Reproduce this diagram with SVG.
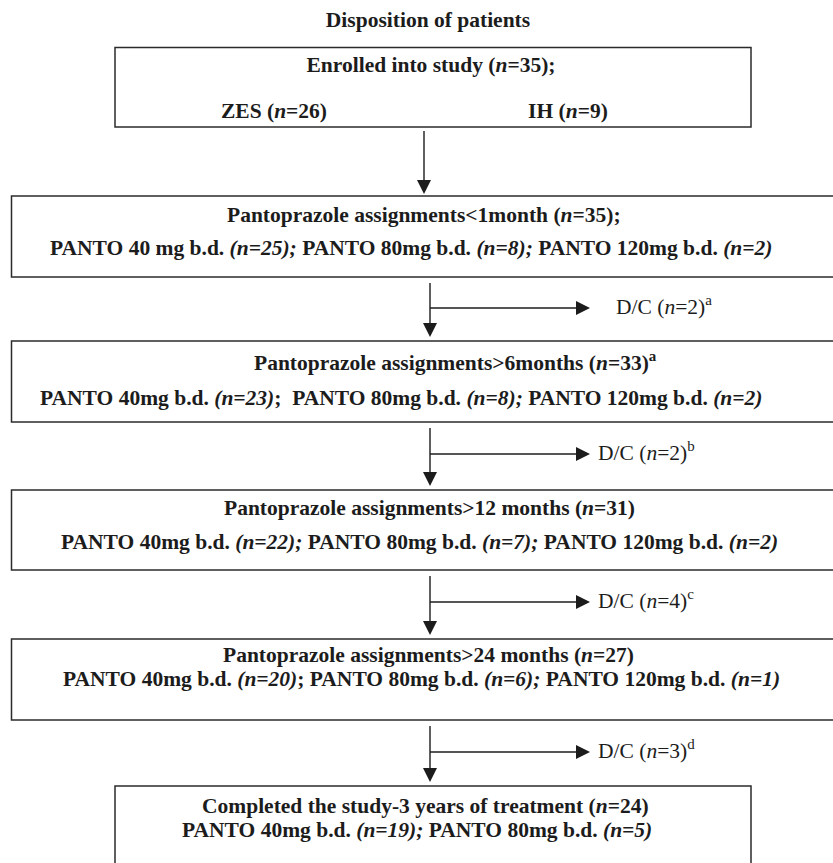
<svg xmlns="http://www.w3.org/2000/svg" width="833" height="863" viewBox="0 0 833 863">
<style>
.bg{fill:#ffffff}
.box{fill:none;stroke:#2b2b2b;stroke-width:1.5}
.t{font-family:"Liberation Serif","Times New Roman",serif;font-size:21.5px;font-weight:bold;fill:#1c1c1c}
.i{font-style:italic}
.ib{font-style:italic}
.dc{font-family:"Liberation Serif","Times New Roman",serif;font-size:21.5px;font-weight:normal;fill:#1c1c1c}
.sup{font-size:15px}
.ln{stroke:#1c1c1c;stroke-width:1.4;fill:none}
</style>
<defs>
<marker id="ah" markerUnits="userSpaceOnUse" markerWidth="15" markerHeight="15" refX="4" refY="7" orient="auto">
<path d="M0,0 L14,7 L0,14 z" fill="#1c1c1c"/>
</marker>
</defs>
<rect class="bg" x="0" y="0" width="833" height="863"/>
<text id="title" class="t" x="428" y="27" text-anchor="middle">Disposition of patients</text>

<g id="enrolled">
<rect class="box" x="115" y="47.5" width="636" height="79.5"/>
<text class="t" x="431" y="72" text-anchor="middle">Enrolled into study (<tspan class="ib">n</tspan>=35);</text>
<text class="t" x="274" y="118" text-anchor="middle">ZES (<tspan class="ib">n</tspan>=26)</text>
<text class="t" x="568" y="118" text-anchor="middle">IH (<tspan class="ib">n</tspan>=9)</text>
</g>

<g id="month1">
<rect class="box" x="11.5" y="196" width="840" height="81"/>
<text class="t" x="227" y="222">Pantoprazole assignments&lt;1month (<tspan class="ib">n</tspan>=35);</text>
<text class="t" x="50" y="255">PANTO 40 mg b.d. <tspan class="i">(n=25);</tspan> PANTO 80mg b.d. <tspan class="i">(n=8);</tspan> PANTO 120mg b.d. <tspan class="i">(n=2)</tspan></text>
</g>

<g id="month6">
<rect class="box" x="11.5" y="341" width="840" height="81"/>
<text class="t" x="254" y="370">Pantoprazole assignments&gt;6months (<tspan class="ib">n</tspan>=33)<tspan class="sup" dy="-9">a</tspan></text>
<text class="t" x="40" y="405">PANTO 40mg b.d. <tspan class="i">(n=23)</tspan>;&#160; PANTO 80mg b.d. <tspan class="i">(n=8);</tspan> PANTO 120mg b.d. <tspan class="i">(n=2)</tspan></text>
</g>

<g id="month12">
<rect class="box" x="11.5" y="490" width="840" height="80"/>
<text class="t" x="224" y="515">Pantoprazole assignments&gt;12 months (<tspan class="ib">n</tspan>=31)</text>
<text class="t" x="61" y="549">PANTO 40mg b.d. <tspan class="i">(n=22);</tspan> PANTO 80mg b.d. <tspan class="i">(n=7);</tspan> PANTO 120mg b.d. <tspan class="i">(n=2)</tspan></text>
</g>

<g id="month24">
<rect class="box" x="11.5" y="639" width="840" height="81"/>
<text class="t" x="223" y="662">Pantoprazole assignments&gt;24 months (<tspan class="ib">n</tspan>=27)</text>
<text class="t" x="63" y="686">PANTO 40mg b.d. <tspan class="i">(n=20)</tspan>; PANTO 80mg b.d. <tspan class="i">(n=6);</tspan> PANTO 120mg b.d. <tspan class="i">(n=1)</tspan></text>
</g>

<g id="completed">
<rect class="box" x="115" y="786" width="636" height="100"/>
<text class="t" x="202" y="813">Completed the study-3 years of treatment (<tspan class="ib">n</tspan>=24)</text>
<text class="t" x="182" y="837">PANTO 40mg b.d. <tspan class="i">(n=19);</tspan> PANTO 80mg b.d. <tspan class="i">(n=5)</tspan></text>
</g>

<g id="dc-labels">
<text class="dc" x="616" y="314">D/C (<tspan font-style="italic">n</tspan>=2)<tspan class="sup" dy="-9">a</tspan></text>
<text class="dc" x="598" y="460">D/C (<tspan font-style="italic">n</tspan>=2)<tspan class="sup" dy="-9">b</tspan></text>
<text class="dc" x="598" y="608">D/C (<tspan font-style="italic">n</tspan>=4)<tspan class="sup" dy="-9">c</tspan></text>
<text class="dc" x="598" y="758">D/C (<tspan font-style="italic">n</tspan>=3)<tspan class="sup" dy="-9">d</tspan></text>
</g>

<g id="connectors">
<line class="ln" x1="424" y1="131" x2="424" y2="184" marker-end="url(#ah)"/>
<line class="ln" x1="430" y1="283" x2="430" y2="327" marker-end="url(#ah)"/>
<line class="ln" x1="430" y1="308" x2="580" y2="308" marker-end="url(#ah)"/>
<line class="ln" x1="430" y1="428" x2="430" y2="476" marker-end="url(#ah)"/>
<line class="ln" x1="430" y1="454" x2="580" y2="454" marker-end="url(#ah)"/>
<line class="ln" x1="430" y1="576" x2="430" y2="625" marker-end="url(#ah)"/>
<line class="ln" x1="430" y1="602" x2="580" y2="602" marker-end="url(#ah)"/>
<line class="ln" x1="430" y1="726" x2="430" y2="772" marker-end="url(#ah)"/>
<line class="ln" x1="430" y1="752" x2="580" y2="752" marker-end="url(#ah)"/>
</g>
</svg>
